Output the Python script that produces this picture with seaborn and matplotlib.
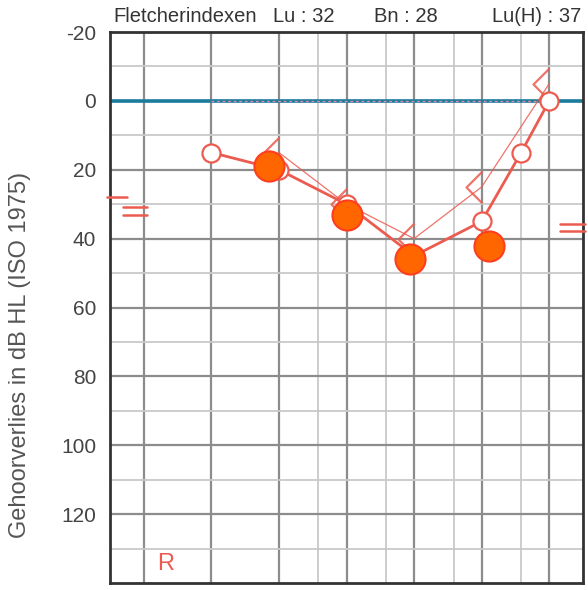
import numpy as np
import matplotlib
matplotlib.use("Agg")
import matplotlib.pyplot as plt
import seaborn as sns
from matplotlib.path import Path
from matplotlib.transforms import blended_transform_factory

# audiogram data (dB HL)
air_freqs = [250, 500, 1000, 2000, 4000, 6000, 8000]
air_db = [15, 20, 30, 45, 35, 15, 0]
bone_freqs = [500, 1000, 2000, 4000, 8000]
bone_db = [15, 30, 40, 25, -5]
dot_freqs = [450, 1010, 1920, 4300]
dot_db = [19, 33, 46, 42]
octave_freqs = [125, 250, 500, 1000, 2000, 4000, 8000]
half_freqs = [750, 1500, 3000, 6000]
ytick_vals = [-20, 0, 20, 40, 60, 80, 100, 120]
lu, bn, luh = 32, 28, 37

red = '#ec5b4f'
sns.set_style('white')
plt.rcParams['font.family'] = ['Liberation Sans', 'DejaVu Sans']

fig = plt.figure(figsize=(5.88, 5.90), dpi=100)
ax = fig.add_axes([110/588, 7/590, 473/588, 551/590])
ax.set_xscale('log', base=2)
ax.set_xlim(125 / 2**0.5, 8000 * 2**0.5)
ax.set_ylim(140, -20)

# grid
for f in octave_freqs:
    ax.axvline(f, color='#8c8c8c', lw=1.6, zorder=1)
for f in half_freqs:
    ax.axvline(f, color='#c9c9c9', lw=1.3, zorder=1)
for v in range(-10, 140, 10):
    if v % 20 == 0:
        ax.axhline(v, color='#8c8c8c', lw=1.6, zorder=1)
    else:
        ax.axhline(v, color='#c9c9c9', lw=1.3, zorder=1)
ax.axhline(0, color='#1c7c9c', lw=2.6, zorder=2)
ax.plot([250, 8000], [0, 0], color='#e08aa8', lw=1, ls=(0, (2, 2)), zorder=2)

# bone conduction (thin line, "<" markers)
bc_marker = Path([(0, 1), (-1, 0), (0, -1)], [Path.MOVETO, Path.LINETO, Path.LINETO])
sns.lineplot(x=bone_freqs, y=bone_db, ax=ax, color=red, lw=0.9, alpha=0.85,
             marker=bc_marker, markersize=23, markerfacecolor='none',
             markeredgecolor=red, markeredgewidth=1.6, zorder=3)

# air conduction
sns.lineplot(x=air_freqs, y=air_db, ax=ax, color=red, lw=2, marker='o',
             markersize=13, markerfacecolor='white', markeredgecolor=red,
             markeredgewidth=1.6, zorder=4)

# filled dots
sns.scatterplot(x=dot_freqs, y=dot_db, ax=ax, s=470, color='#ff6600',
                edgecolor='#ff3d1f', linewidth=1.5, zorder=6)

# index marks
tr = blended_transform_factory(ax.transAxes, ax.transData)
ax.plot([-0.006, 0.036], [bn, bn], color=red, lw=1.8, transform=tr, clip_on=False, zorder=5)
for d in (-1.1, 1.1):
    ax.plot([0.027, 0.078], [lu + d, lu + d], color=red, lw=1.8, transform=tr, clip_on=False, zorder=5)
    ax.plot([0.951, 1.004], [luh + d - 0.2, luh + d - 0.2], color=red, lw=1.8, transform=tr,
            clip_on=False, zorder=5)

ax.text(0.100, 136.3, 'R', transform=tr, color=red, fontsize=17)

ax.set_yticks(ytick_vals)
ax.set_yticklabels([str(v) for v in ytick_vals], fontsize=15, color='#444444')
ax.set_xticks([])
ax.xaxis.set_minor_locator(matplotlib.ticker.NullLocator())
ax.tick_params(axis='y', length=0, pad=10)
ax.set_ylabel('Gehoorverlies in dB HL (ISO 1975)', fontsize=17, color='#555555')
ax.yaxis.set_label_coords(-0.167, 0.414)
for s in ax.spines.values():
    s.set_color('#333333')
    s.set_linewidth(2)

fig.text(113/588, 1 - 22/590, 'Fletcherindexen', fontsize=14.5, color='#333333')
fig.text(273/588, 1 - 22/590, f'Lu : {lu}', fontsize=14.5, color='#333333')
fig.text(374/588, 1 - 22/590, f'Bn : {bn}', fontsize=14.5, color='#333333')
fig.text(492/588, 1 - 22/590, f'Lu(H) : {luh}', fontsize=14.5, color='#333333')

fig.savefig('out.png', dpi=100)
